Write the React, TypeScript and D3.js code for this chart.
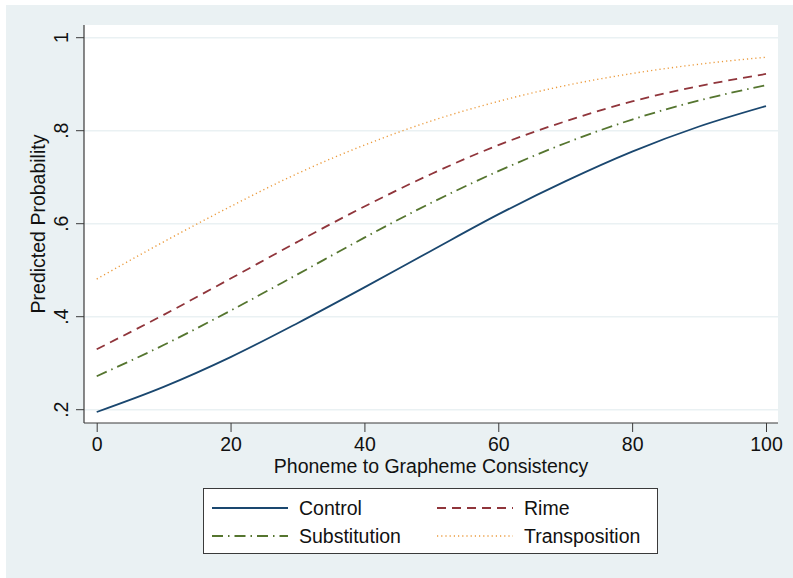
import React, { useEffect, useRef } from "react";
import * as d3 from "d3";

// predicted probabilities
const consistency = [0, 10, 20, 30, 40, 50, 60, 70, 80, 90, 100];
const control = [0.195, 0.249, 0.313, 0.386, 0.463, 0.542, 0.62, 0.691, 0.755, 0.809, 0.853];
const rime = [0.33, 0.404, 0.482, 0.561, 0.637, 0.707, 0.769, 0.82, 0.863, 0.896, 0.922];
const substitution = [0.272, 0.339, 0.413, 0.491, 0.57, 0.645, 0.713, 0.773, 0.824, 0.865, 0.898];
const transposition = [0.481, 0.561, 0.637, 0.708, 0.769, 0.821, 0.863, 0.897, 0.923, 0.943, 0.958];

const xTicks = [0, 20, 40, 60, 80, 100];
const yTicks = [0.2, 0.4, 0.6, 0.8, 1];
const yTickLabels = [".2", ".4", ".6", ".8", "1"];

const seriesNames = ["Control", "Rime", "Substitution", "Transposition"];

const App = () => {
  const chartRef = useRef(null);

  useEffect(() => {
    const width = 793;
    const height = 578;
    const font = "'Liberation Sans', Arial, Helvetica, sans-serif";
    const axisColor = "#3a3a3a";

    const plot = { left: 84, right: 778, top: 25, bottom: 423 };

    const x = d3.scaleLinear().domain([0, 100]).range([96.7, 766]);
    const y = d3.scaleLinear().domain([0.2, 1]).range([409.7, 37.7]);

    const series = [
      { name: "Control", values: control, color: "#1a476f", dash: null, width: 1.8 },
      { name: "Rime", values: rime, color: "#90353b", dash: "9,6", width: 1.8 },
      { name: "Substitution", values: substitution, color: "#55752f", dash: "11,5,1.5,5", width: 1.8 },
      { name: "Transposition", values: transposition, color: "#eb9a3c", dash: "1.2,3", width: 1.4 },
    ];

    const svg = d3
      .select(chartRef.current)
      .append("svg")
      .attr("width", width)
      .attr("height", height)
      .style("position", "absolute")
      .style("left", "0px")
      .style("top", "0px")
      .style("font-family", font);

    svg.append("rect").attr("width", width).attr("height", height).attr("fill", "#ffffff");
    svg
      .append("rect")
      .attr("x", 6)
      .attr("y", 5)
      .attr("width", width - 6)
      .attr("height", height - 5)
      .attr("fill", "#eaf1f3");

    svg
      .append("rect")
      .attr("x", plot.left)
      .attr("y", plot.top)
      .attr("width", plot.right - plot.left)
      .attr("height", plot.bottom - plot.top)
      .attr("fill", "#ffffff");

    // gridlines
    svg
      .selectAll(".grid")
      .data(yTicks)
      .enter()
      .append("line")
      .attr("class", "grid")
      .attr("x1", plot.left)
      .attr("x2", plot.right)
      .attr("y1", (d) => y(d))
      .attr("y2", (d) => y(d))
      .attr("stroke", "#eaf1f3")
      .attr("stroke-width", 1.6);

    // curves
    const line = d3
      .line()
      .x((d) => x(d[0]))
      .y((d) => y(d[1]))
      .curve(d3.curveMonotoneX);

    series.forEach((s) => {
      svg
        .append("path")
        .datum(consistency.map((c, i) => [c, s.values[i]]))
        .attr("fill", "none")
        .attr("stroke", s.color)
        .attr("stroke-width", s.width)
        .attr("stroke-dasharray", s.dash)
        .attr("d", line);
    });

    // y axis ticks and rotated labels
    svg
      .selectAll(".ytick")
      .data(yTicks)
      .enter()
      .append("line")
      .attr("class", "ytick")
      .attr("x1", plot.left - 8)
      .attr("x2", plot.left)
      .attr("y1", (d) => y(d))
      .attr("y2", (d) => y(d))
      .attr("stroke", axisColor);
    svg
      .selectAll(".ylabel")
      .data(yTicks)
      .enter()
      .append("text")
      .attr("class", "ylabel")
      .attr("transform", (d) => `translate(${plot.left - 16}, ${y(d)}) rotate(-90)`)
      .attr("text-anchor", "middle")
      .style("font-size", "19.5px")
      .style("fill", "#111")
      .text((d, i) => yTickLabels[i]);

    // x axis
    const xAxis = svg
      .append("g")
      .attr("transform", `translate(0, ${plot.bottom})`)
      .call(d3.axisBottom(x).tickValues(xTicks).tickSize(9).tickPadding(0));
    xAxis.select(".domain").remove();
    xAxis.selectAll(".tick line").attr("stroke", axisColor);
    xAxis
      .selectAll(".tick text")
      .attr("y", 28)
      .attr("dy", null)
      .style("font-size", "19.5px")
      .style("font-family", font)
      .style("fill", "#111");

    svg
      .append("line")
      .attr("x1", plot.left)
      .attr("x2", plot.left)
      .attr("y1", plot.top)
      .attr("y2", plot.bottom)
      .attr("stroke", axisColor)
      .attr("stroke-width", 1.2);
    svg
      .append("line")
      .attr("x1", plot.left)
      .attr("x2", plot.right)
      .attr("y1", plot.bottom)
      .attr("y2", plot.bottom)
      .attr("stroke", axisColor)
      .attr("stroke-width", 1.2);

    // axis titles
    svg
      .append("text")
      .attr("transform", `translate(45, ${(plot.top + plot.bottom) / 2}) rotate(-90)`)
      .attr("text-anchor", "middle")
      .style("font-size", "19.5px")
      .style("fill", "#111")
      .text("Predicted Probability");

    svg
      .append("text")
      .attr("x", (plot.left + plot.right) / 2)
      .attr("y", 473)
      .attr("text-anchor", "middle")
      .style("font-size", "19.5px")
      .style("fill", "#111")
      .text("Phoneme to Grapheme Consistency");

    // legend
    const legend = svg.append("g");
    legend
      .append("rect")
      .attr("x", 203.5)
      .attr("y", 488.5)
      .attr("width", 454)
      .attr("height", 65)
      .attr("fill", "#ffffff")
      .attr("stroke", "#3a3a3a")
      .attr("stroke-width", 1);

    const cols = [212, 437];
    const rows = [508, 536];
    seriesNames.forEach((name, i) => {
      const s = series[i];
      const lx = cols[i % 2];
      const ly = rows[Math.floor(i / 2)];
      legend
        .append("line")
        .attr("x1", lx)
        .attr("x2", lx + 76)
        .attr("y1", ly)
        .attr("y2", ly)
        .attr("stroke", s.color)
        .attr("stroke-width", s.width)
        .attr("stroke-dasharray", s.dash);
      legend
        .append("text")
        .attr("x", lx + 87)
        .attr("y", ly + 7)
        .style("font-size", "19.5px")
        .style("fill", "#111")
        .text(name);
    });

    return () => {
      svg.remove();
    };
  }, []);

  return <div ref={chartRef}></div>;
};

export default App;
